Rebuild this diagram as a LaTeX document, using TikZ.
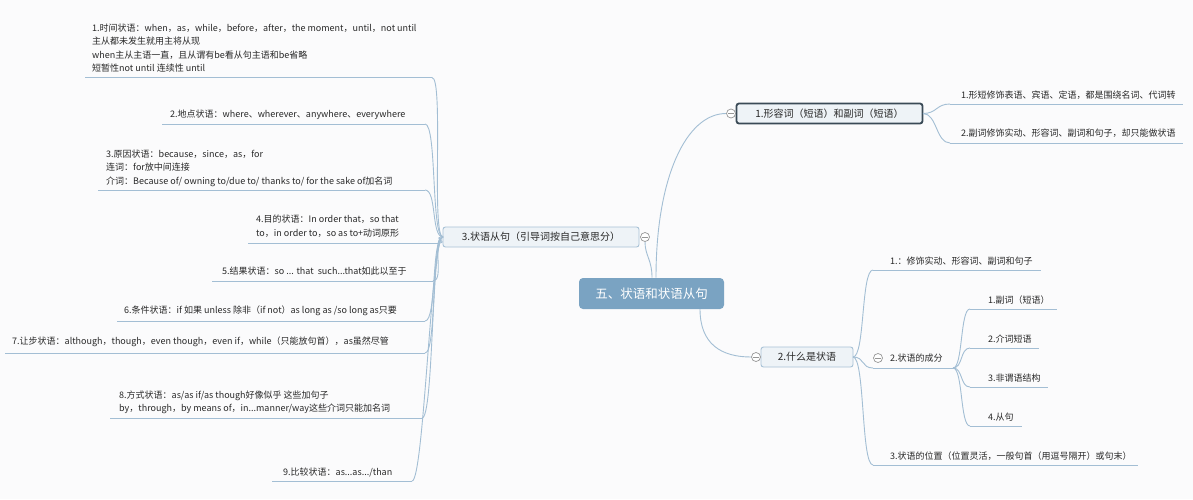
\documentclass[tikz,border=0pt]{standalone}
\usepackage{fontspec}
\setmainfont{Noto Sans CJK SC}
\usetikzlibrary{calc}
\definecolor{bgc}{RGB}{251,251,252}
\definecolor{lnc}{RGB}{163,190,212}
\definecolor{boxfill}{RGB}{238,243,247}
\definecolor{boxline}{RGB}{168,194,214}
\definecolor{selline}{RGB}{58,74,86}
\definecolor{central}{RGB}{122,163,194}
\definecolor{txtc}{RGB}{40,40,40}
\definecolor{collc}{RGB}{150,150,150}
\tikzset{
  x=1pt, y=-1pt,
  t/.style={font=\fontsize{9}{13.5}\selectfont, text=txtc, inner sep=0pt, anchor=west, align=left},
  tm/.style={t, anchor=north west},
  ln/.style={draw=lnc, line width=0.9pt},
  topic/.style={draw=boxline, fill=boxfill, rounded corners=2.5pt, line width=0.9pt,
     font=\fontsize{10}{12}\selectfont, text=txtc, inner sep=0pt},
  coll/.style={circle, draw=collc, fill=white, minimum size=9pt, inner sep=0pt, line width=0.7pt,
     path picture={\draw[collc, line width=0.8pt] ([xshift=-2.8pt]path picture bounding box.center) -- ([xshift=2.8pt]path picture bounding box.center);}},
}
\begin{document}
\begin{tikzpicture}
\fill[bgc] (0,0) rectangle (1193,499);
\useasboundingbox (0,0) rectangle (1193,499);

% ---------- central ----------
\node[fill=central, rounded corners=4pt, minimum width=145pt, minimum height=31pt, text=white,
      font=\fontsize{12.5}{14}\selectfont, inner sep=0pt] (root) at (651.5,293.5) {五、状语和状语从句};

% ---------- main topics ----------
\node[topic, minimum width=196pt, minimum height=20pt] (a3) at (541,237) {3.状语从句（引导词按自己意思分）};
\node[coll] (a3c) at (645,237) {};
\node[topic, draw=selline, line width=1.8pt, minimum width=186pt, minimum height=20pt] (a1) at (829.5,113.5) {1.形容词（短语）和副词（短语）};
\node[coll] (a1c) at (731,113.5) {};
\node[topic, minimum width=92pt, minimum height=20pt] (a2) at (807,357) {2.什么是状语};
\node[coll] (a2c) at (756,357) {};

% root connectors
\coordinate (r1) at (652,277.5);
\coordinate (r2) at (656,277.5);
\coordinate (r3) at (700,309);
\draw[ln] (r1) .. controls +(0,-18) and +(0,14) .. (a3c.south);
\draw[ln] (r2) .. controls +(0,-100) and +(-40,0) .. (a1c.west);
\draw[ln] (r3) .. controls +(0,35) and +(-30,0) .. (a2c.west);

% ---------- left children of a3 ----------
\coordinate (p3) at (443,237);
\node[tm] (l1) at (92,23.5) {1.时间状语：when，as，while，before，after，the moment，until，not until\\主从都未发生就用主将从现\\when主从主语一直，且从谓有be看从句主语和be省略\\短暂性not until 连续性 until};
\node[t] (l2) at (170,115) {2.地点状语：where、wherever、anywhere、everywhere};
\node[tm] (l3) at (106,149.5) {3.原因状语：because，since，as，for\\连词：for放中间连接\\介词：Because of/ owning to/due to/ thanks to/ for the sake of加名词};
\node[tm] (l4) at (256,215) {4.目的状语：In order that，so that\\to，in order to，so as to+动词原形};
\node[t] (l5) at (222,271.5) {5.结果状语：so ... that\ \ such...that如此以至于};
\node[t] (l6) at (124,310.5) {6.条件状语：if 如果 unless 除非（if not）as long as /so long as只要};
\node[t] (l7) at (12,342) {7.让步状语：although，though，even though，even if，while（只能放句首），as虽然尽管};
\node[tm] (l8) at (119,390.5) {8.方式状语：as/as if/as though好像似乎 这些加句子\\by，through，by means of，in...manner/way这些介词只能加名词};
\node[t] (l9) at (283,472) {9.比较状语：as...as.../than};

\foreach \n/\y/\xa/\xb in {1/77.5/85/432, 2/124/162/425, 3/190/98/425, 4/243/248/438, 5/281/212/433,
                           6/321/117/425, 7/353/5/425, 8/418/110/422, 9/481/272/412}{
  \coordinate (u\n a) at (\xa,\y);
  \coordinate (u\n b) at (\xb,\y);
  \draw[ln] (u\n a) -- (u\n b);
  \draw[ln] (p3) .. controls +(-12,0) and +(12,0) .. (u\n b);
}

% ---------- right children of a1 ----------
\coordinate (p1) at (923,113.5);
\node[t] (b1) at (961,95) {1.形短修饰表语、宾语、定语，都是围绕名词、代词转};
\node[t] (b2) at (961,133) {2.副词修饰实动、形容词、副词和句子，却只能做状语};
\coordinate (v1a) at (950,104); \coordinate (v1b) at (1183,104);
\coordinate (v2a) at (950,143); \coordinate (v2b) at (1183,143);
\draw[ln] (v1a) -- (v1b);
\draw[ln] (v2a) -- (v2b);
\draw[ln] (p1) .. controls +(14,0) and +(-14,0) .. (v1a);
\draw[ln] (p1) .. controls +(14,0) and +(-14,0) .. (v2a);

% ---------- right children of a2 ----------
\coordinate (p2) at (853,357);
\node[t] (c1) at (890,261) {1.：修饰实动、形容词、副词和句子};
\node[t] (c2) at (890,358) {2.状语的成分};
\node[coll] (c2c) at (878,358) {};
\node[t] (c3) at (890,456) {3.状语的位置（位置灵活，一般句首（用逗号隔开）或句末）};
\coordinate (w1a) at (873,270); \coordinate (w1b) at (1041,270);
\coordinate (w2a) at (873,368); \coordinate (w2b) at (953,368);
\coordinate (w3a) at (873,465); \coordinate (w3b) at (1138,465);
\draw[ln] (w1a) -- (w1b);
\draw[ln] (w2a) -- (w2b);
\draw[ln] (w3a) -- (w3b);
\draw[ln] (p2) .. controls +(12,0) and +(-12,0) .. (w1a);
\draw[ln] (p2) .. controls +(12,0) and +(-12,0) .. (w2a);
\draw[ln] (p2) .. controls +(12,0) and +(-12,0) .. (w3a);

% sub children of c2
\node[t] (d1) at (988,300) {1.副词（短语）};
\node[t] (d2) at (988,339) {2.介词短语};
\node[t] (d3) at (988,378) {3.非谓语结构};
\node[t] (d4) at (988,417) {4.从句};
\foreach \n/\y/\xb in {1/309/1057, 2/348/1039, 3/387/1048, 4/426/1022}{
  \coordinate (s\n a) at (970,\y);
  \coordinate (s\n b) at (\xb,\y);
  \draw[ln] (s\n a) -- (s\n b);
  \draw[ln] (w2b) .. controls +(10,0) and +(-10,0) .. (s\n a);
}
\end{tikzpicture}
\end{document}
